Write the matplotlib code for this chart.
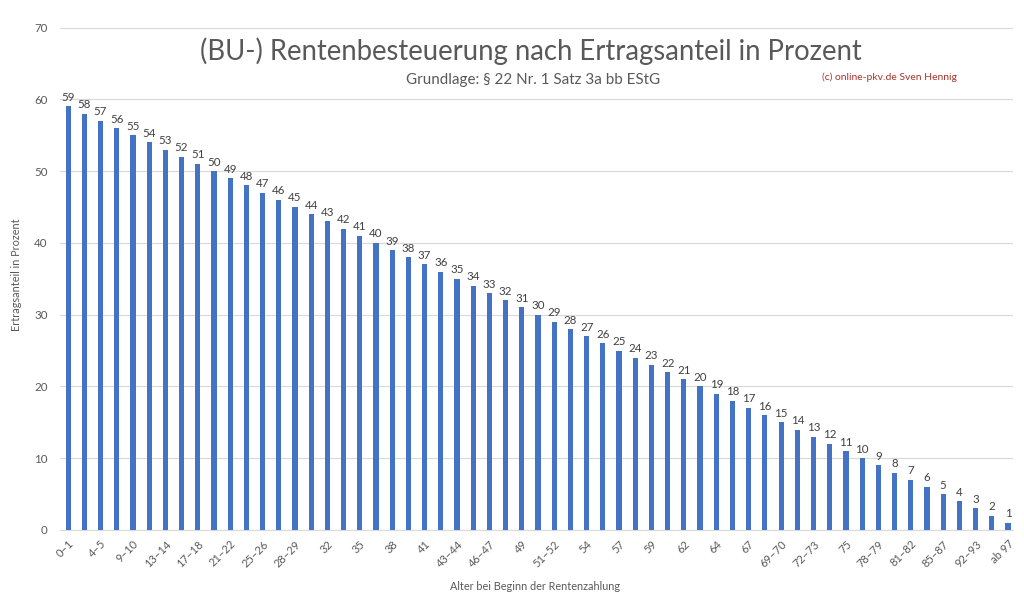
import matplotlib
matplotlib.use("Agg")
import matplotlib.pyplot as plt

plt.rcParams['font.family'] = ['Lato', 'DejaVu Sans']

categories = ["0–1", "2–3", "4–5", "6–8", "9–10", "11–12", "13–14", "15–16", "17–18", "19–20",
              "21–22", "23–24", "25–26", "27", "28–29", "30–31", "32", "33–34", "35", "36–37",
              "38", "39–40", "41", "42", "43–44", "45", "46–47", "48", "49", "50",
              "51–52", "53", "54", "55–56", "57", "58", "59", "60–61", "62", "63",
              "64", "65–66", "67", "68", "69–70", "71", "72–73", "74", "75", "76–77",
              "78–79", "80", "81–82", "83–84", "85–87", "88–91", "92–93", "94–96", "ab 97"]
values = [59, 58, 57, 56, 55, 54, 53, 52, 51, 50,
          49, 48, 47, 46, 45, 44, 43, 42, 41, 40,
          39, 38, 37, 36, 35, 34, 33, 32, 31, 30,
          29, 28, 27, 26, 25, 24, 23, 22, 21, 20,
          19, 18, 17, 16, 15, 14, 13, 12, 11, 10,
          9, 8, 7, 6, 5, 4, 3, 2, 1]
yticks = [0, 10, 20, 30, 40, 50, 60, 70]

title = "(BU-) Rentenbesteuerung nach Ertragsanteil in Prozent"
subtitle = "Grundlage: § 22 Nr. 1 Satz 3a bb EStG"
credit = "(c) online-pkv.de Sven Hennig"
xlabel = "Alter bei Beginn der Rentenzahlung"
ylabel = "Ertragsanteil in Prozent"

W, H = 1024, 602
fig = plt.figure(figsize=(W / 100, H / 100), dpi=100)
ax = fig.add_axes([60 / W, 1 - 530 / H, 953 / W, (530 - 27.5) / H])

x = list(range(len(values)))
bars = ax.bar(x, values, width=0.32, color="#4472C4", zorder=3)
for xi, v in zip(x, values):
    ax.annotate(str(v), (xi, v), xytext=(0, 2.5), textcoords="offset points",
                ha="center", va="bottom", fontsize=8.3, color="#404040")

ax.set_xlim(-0.5, len(values) - 1 + 0.31)
ax.set_ylim(0, 70)
ax.set_yticks(yticks)
ax.set_yticklabels([str(t) for t in yticks], fontsize=8.3, color="#595959")
ax.set_xticks(x[::2])
ax.set_xticklabels(categories[::2], rotation=45, ha="right", rotation_mode="anchor",
                   fontsize=8, color="#595959")
ax.tick_params(axis="both", length=0)
ax.tick_params(axis="y", pad=9)
ax.tick_params(axis="x", pad=6)
ax.grid(axis="y", color="#D9D9D9", linewidth=0.8, zorder=0)
for s in ["top", "right", "left"]:
    ax.spines[s].set_visible(False)
ax.spines["bottom"].set_color("#D9D9D9")
ax.spines["bottom"].set_linewidth(0.8)

fig.text(531 / W, 1 - 51 / H, title, ha="center", va="center", fontsize=19.8, color="#595959")
fig.text(533 / W, 1 - 80 / H, subtitle, ha="center", va="center", fontsize=10.9, color="#595959")
fig.text(822 / W, 1 - 77 / H, credit, ha="left", va="center", fontsize=7.5, color="#A5362C")
fig.text(535 / W, 1 - 587 / H, xlabel, ha="center", va="center", fontsize=7.8, color="#595959")
fig.text(17 / W, 1 - 275 / H, ylabel, ha="center", va="center", rotation=90, fontsize=7.8, color="#595959")

fig.savefig("out.png", dpi=100, facecolor="white")
